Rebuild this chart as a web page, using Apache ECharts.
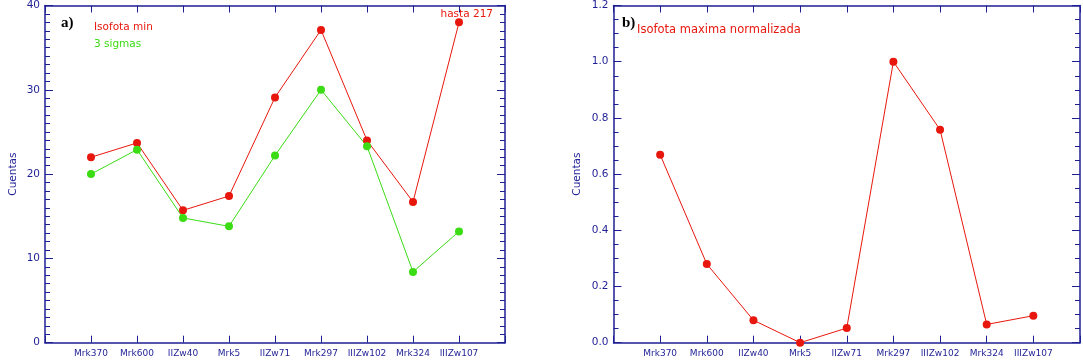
<!DOCTYPE html>
<html>
<head>
<meta charset="utf-8">
<script src="https://cdn.jsdelivr.net/npm/echarts@6/dist/echarts.min.js"></script>
<style>
html,body{margin:0;padding:0;background:#fff;}
#chart{width:1083px;height:363px;}
</style>
</head>
<body>
<div id="chart"></div>
<script>
// ---- data ----
const categories = ['Mrk370','Mrk600','IIZw40','Mrk5','IIZw71','Mrk297','IIIZw102','Mrk324','IIIZw107'];
const isofotaMin = [22.0, 23.7, 15.7, 17.4, 29.1, 37.1, 24.0, 16.7, 38.0];
const tresSigmas = [20.0, 22.9, 14.8, 13.8, 22.2, 30.0, 23.3, 8.4, 13.2];
const isofotaMaxNorm = [0.669, 0.280, 0.080, 0.0, 0.052, 1.0, 0.758, 0.065, 0.096];
const yTicksA = [0, 10, 20, 30, 40];
const yTicksB = [0.0, 0.2, 0.4, 0.6, 0.8, 1.0, 1.2];
const labelsA = ['Isofota min', '3 sigmas', 'hasta 217'];
const labelsB = ['Isofota maxima normalizada'];
const yName = 'Cuentas';

// ---- styles ----
const NAVY = '#1f1f95';
const RED = '#e8170d';
const GREEN = '#3bdc14';
const FONT = 'DejaVu Sans';

// padded category axis: empty slot at each end
const axisCats = [''].concat(categories, ['']);
const pad = arr => [null].concat(arr, [null]);

function xAxes(gridIndex) {
  const base = {
    type: 'category', gridIndex, data: axisCats, boundaryGap: false,
    axisLine: {show: true, onZero: false, lineStyle: {color: NAVY, width: 1.5}},
    splitLine: {show: false}
  };
  return [
    Object.assign({}, base, {
      position: 'bottom',
      axisTick: {show: true, inside: true, length: 7, lineStyle: {color: NAVY}, interval: 0},
      axisLabel: {show: true, interval: 0, color: NAVY, fontFamily: FONT, fontSize: 9, margin: 6}
    }),
    Object.assign({}, base, {
      position: 'top',
      axisTick: {show: true, inside: true, length: 7, lineStyle: {color: NAVY}, interval: 0},
      axisLabel: {show: false}
    })
  ];
}

function yAxes(gridIndex, ticks, nameGap, fmt) {
  const min = ticks[0], max = ticks[ticks.length - 1], interval = ticks[1] - ticks[0];
  const base = {
    type: 'value', gridIndex, min, max, interval,
    axisLine: {show: true, onZero: false, lineStyle: {color: NAVY, width: 1.5}},
    splitLine: {show: false}
  };
  return [
    Object.assign({}, base, {
      position: 'left',
      name: yName, nameLocation: 'middle', nameGap,
      nameTextStyle: {color: NAVY, fontFamily: FONT, fontSize: 10.5},
      axisTick: {show: true, inside: true, length: 8, lineStyle: {color: NAVY}},
      minorTick: {show: true, splitNumber: gridIndex === 0 ? 10 : 4, length: 5, lineStyle: {color: NAVY}},
      axisLabel: {show: true, color: NAVY, fontFamily: FONT, fontSize: 10.5, margin: 5, formatter: fmt}
    }),
    Object.assign({}, base, {
      position: 'right',
      axisTick: {show: true, inside: true, length: 8, lineStyle: {color: NAVY}},
      minorTick: {show: true, splitNumber: gridIndex === 0 ? 10 : 4, length: 5, lineStyle: {color: NAVY}},
      axisLabel: {show: false}
    })
  ];
}

function lineSeries(name, data, color, xi, yi) {
  return {
    name, type: 'line', data: pad(data), xAxisIndex: xi, yAxisIndex: yi,
    symbol: 'circle', symbolSize: 8, connectNulls: false,
    lineStyle: {color, width: 1}, itemStyle: {color},
    animation: false, z: 3
  };
}

const chart = echarts.init(document.getElementById('chart'), null, {renderer: 'canvas'});
chart.setOption({
  animation: false,
  backgroundColor: '#fff',
  grid: [
    {left: 45, top: 4.7, width: 460, height: 338, containLabel: false},
    {left: 613.5, top: 4.7, width: 475, height: 338, containLabel: false}
  ],
  xAxis: xAxes(0).concat(xAxes(1)),
  yAxis: yAxes(0, yTicksA, 26, v => String(v))
    .concat(yAxes(1, yTicksB, 31, v => v.toFixed(1))),
  series: [
    lineSeries(labelsA[0], isofotaMin, RED, 0, 0),
    lineSeries(labelsA[1], tresSigmas, GREEN, 0, 0),
    lineSeries(labelsB[0], isofotaMaxNorm, RED, 2, 2)
  ],
  graphic: [
    {type: 'text', style: {text: 'a)', x: 61, y: 23, fill: '#000', font: 'bold 15px "Liberation Serif"', verticalAlign: 'middle'}},
    {type: 'text', style: {text: labelsA[0], x: 94, y: 27.5, fill: RED, font: '10.5px "DejaVu Sans"', verticalAlign: 'middle'}},
    {type: 'text', style: {text: labelsA[1], x: 94, y: 44, fill: GREEN, font: '10.5px "DejaVu Sans"', verticalAlign: 'middle'}},
    {type: 'text', style: {text: labelsA[2], x: 493, y: 14, fill: RED, font: '10.5px "DejaVu Sans"', align: 'right', verticalAlign: 'middle'}},
    {type: 'text', style: {text: 'b)', x: 622, y: 23, fill: '#000', font: 'bold 15px "Liberation Serif"', verticalAlign: 'middle'}},
    {type: 'text', style: {text: labelsB[0], x: 637, y: 30, fill: RED, font: '11.5px "DejaVu Sans"', verticalAlign: 'middle'}}
  ]
});
</script>
</body>
</html>
